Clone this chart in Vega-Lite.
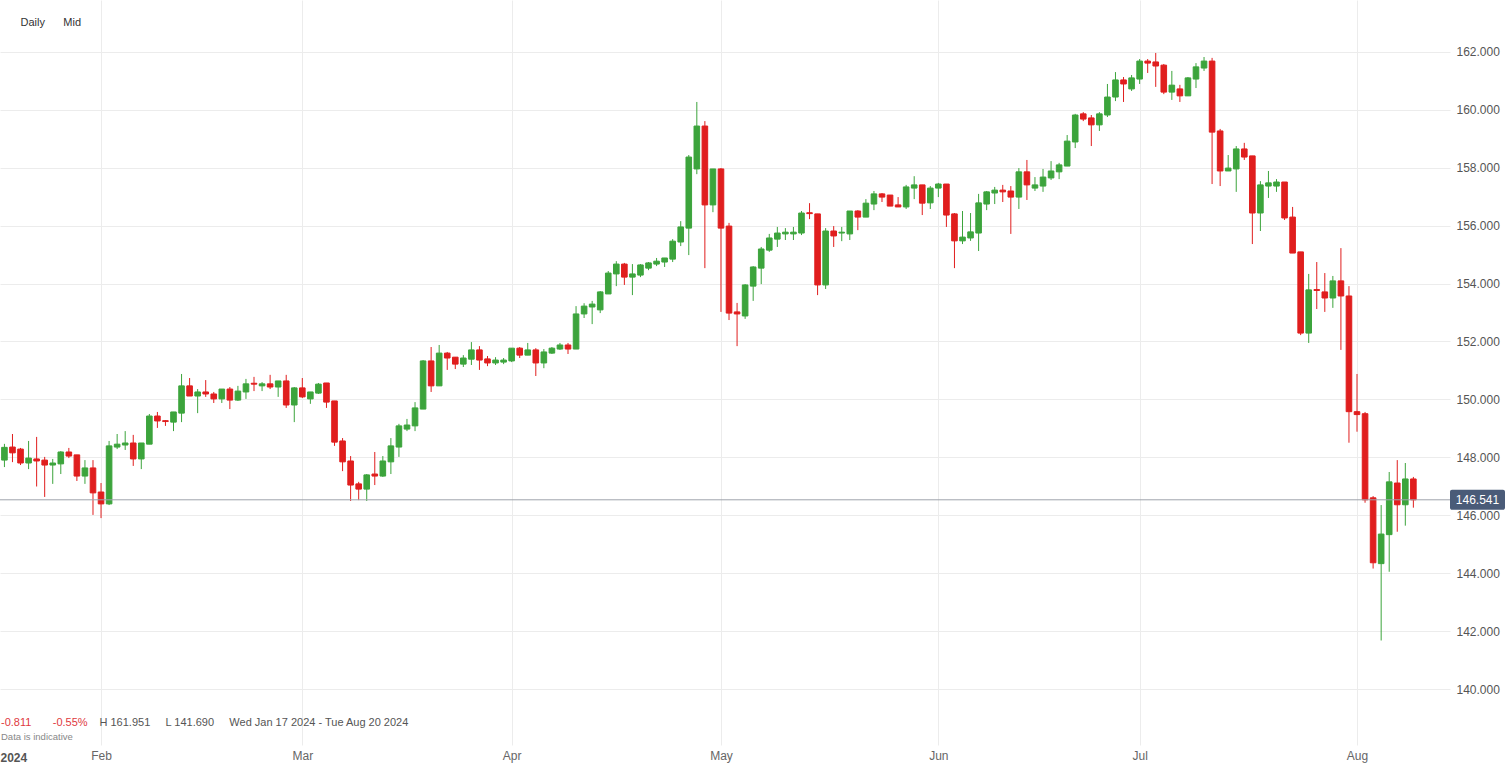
{
"$schema": "https://vega.github.io/schema/vega-lite/v6.json",
"width": 1450, "height": 745,
"autosize": "none",
"padding": {"left": 0, "top": 0, "right": 57, "bottom": 20},
"background": "white",
"config": {"view": {"stroke": null}, "font": "Liberation Sans", "axis": {"labelFont": "Liberation Sans", "titleFont": "Liberation Sans"}},
"title": {"text": "-0.811\u00a0\u00a0\u00a0\u00a0\u00a0\u00a0\u00a0-0.55%", "subtitle": "Data is indicative", "anchor": "start", "orient": "top", "frame": "group", "offset": 0, "dx": 1, "dy": 741, "fontSize": 11, "fontWeight": "normal", "color": "#e0393e", "font": "Liberation Sans", "subtitleFont": "Liberation Sans", "subtitleFontSize": 9.5, "subtitleColor": "#888888", "subtitlePadding": 4},
"datasets": {
"last": [{"price": 146.541}],
"candles": [
{"d":"2024-01-18","o":147.91,"h":148.47,"l":147.67,"c":148.35},
{"d":"2024-01-19","o":148.36,"h":148.81,"l":147.84,"c":148.16},
{"d":"2024-01-21","o":148.29,"h":148.33,"l":147.74,"c":147.81},
{"d":"2024-01-22","o":147.81,"h":148.57,"l":147.60,"c":147.98},
{"d":"2024-01-23","o":147.95,"h":148.71,"l":147.00,"c":147.88},
{"d":"2024-01-24","o":147.91,"h":148.02,"l":146.64,"c":147.74},
{"d":"2024-01-25","o":147.74,"h":147.95,"l":147.09,"c":147.81},
{"d":"2024-01-26","o":147.78,"h":148.22,"l":147.43,"c":148.19},
{"d":"2024-01-28","o":148.19,"h":148.33,"l":147.98,"c":148.05},
{"d":"2024-01-29","o":148.09,"h":148.09,"l":147.19,"c":147.36},
{"d":"2024-01-30","o":147.36,"h":147.91,"l":147.09,"c":147.64},
{"d":"2024-01-31","o":147.64,"h":147.91,"l":146.02,"c":146.78},
{"d":"2024-02-01","o":146.81,"h":147.12,"l":145.91,"c":146.40},
{"d":"2024-02-02","o":146.40,"h":148.57,"l":146.36,"c":148.40},
{"d":"2024-02-04","o":148.36,"h":148.81,"l":148.29,"c":148.46},
{"d":"2024-02-05","o":148.43,"h":148.91,"l":148.26,"c":148.50},
{"d":"2024-02-06","o":148.50,"h":148.78,"l":147.71,"c":147.95},
{"d":"2024-02-07","o":147.95,"h":148.50,"l":147.60,"c":148.50},
{"d":"2024-02-08","o":148.46,"h":149.50,"l":148.46,"c":149.43},
{"d":"2024-02-09","o":149.43,"h":149.57,"l":149.02,"c":149.26},
{"d":"2024-02-11","o":149.27,"h":149.29,"l":149.09,"c":149.24},
{"d":"2024-02-12","o":149.22,"h":149.57,"l":148.91,"c":149.57},
{"d":"2024-02-13","o":149.53,"h":150.88,"l":149.22,"c":150.47},
{"d":"2024-02-14","o":150.47,"h":150.74,"l":150.12,"c":150.12},
{"d":"2024-02-15","o":150.12,"h":150.36,"l":149.53,"c":150.26},
{"d":"2024-02-16","o":150.26,"h":150.67,"l":150.09,"c":150.19},
{"d":"2024-02-18","o":150.19,"h":150.26,"l":149.88,"c":150.02},
{"d":"2024-02-19","o":150.02,"h":150.36,"l":149.88,"c":150.36},
{"d":"2024-02-20","o":150.36,"h":150.43,"l":149.67,"c":149.98},
{"d":"2024-02-21","o":149.98,"h":150.47,"l":149.95,"c":150.29},
{"d":"2024-02-22","o":150.26,"h":150.71,"l":150.02,"c":150.54},
{"d":"2024-02-23","o":150.56,"h":150.78,"l":150.29,"c":150.53},
{"d":"2024-02-25","o":150.47,"h":150.60,"l":150.29,"c":150.54},
{"d":"2024-02-26","o":150.54,"h":150.85,"l":150.36,"c":150.43},
{"d":"2024-02-27","o":150.43,"h":150.64,"l":150.09,"c":150.64},
{"d":"2024-02-28","o":150.64,"h":150.85,"l":149.71,"c":149.81},
{"d":"2024-02-29","o":149.81,"h":150.43,"l":149.22,"c":150.40},
{"d":"2024-03-01","o":150.40,"h":150.74,"l":150.05,"c":150.09},
{"d":"2024-03-03","o":150.02,"h":150.26,"l":149.85,"c":150.26},
{"d":"2024-03-04","o":150.22,"h":150.57,"l":150.19,"c":150.53},
{"d":"2024-03-05","o":150.57,"h":150.57,"l":149.71,"c":149.91},
{"d":"2024-03-06","o":149.95,"h":149.95,"l":148.40,"c":148.53},
{"d":"2024-03-07","o":148.57,"h":148.67,"l":147.53,"c":147.85},
{"d":"2024-03-08","o":147.88,"h":148.05,"l":146.50,"c":147.05},
{"d":"2024-03-10","o":147.09,"h":147.16,"l":146.53,"c":146.91},
{"d":"2024-03-11","o":146.91,"h":147.43,"l":146.50,"c":147.40},
{"d":"2024-03-12","o":147.43,"h":148.19,"l":147.05,"c":147.36},
{"d":"2024-03-13","o":147.36,"h":148.05,"l":147.33,"c":147.88},
{"d":"2024-03-14","o":147.85,"h":148.67,"l":147.43,"c":148.40},
{"d":"2024-03-15","o":148.36,"h":149.16,"l":148.02,"c":149.09},
{"d":"2024-03-17","o":148.98,"h":149.33,"l":148.91,"c":149.12},
{"d":"2024-03-18","o":149.09,"h":149.91,"l":148.91,"c":149.71},
{"d":"2024-03-19","o":149.67,"h":151.36,"l":149.67,"c":151.33},
{"d":"2024-03-20","o":151.33,"h":151.81,"l":150.26,"c":150.47},
{"d":"2024-03-21","o":150.47,"h":151.88,"l":150.47,"c":151.60},
{"d":"2024-03-22","o":151.60,"h":151.64,"l":151.02,"c":151.43},
{"d":"2024-03-24","o":151.46,"h":151.46,"l":151.05,"c":151.22},
{"d":"2024-03-25","o":151.22,"h":151.53,"l":151.12,"c":151.43},
{"d":"2024-03-26","o":151.39,"h":151.98,"l":151.19,"c":151.71},
{"d":"2024-03-27","o":151.71,"h":151.84,"l":151.02,"c":151.36},
{"d":"2024-03-28","o":151.40,"h":151.50,"l":151.15,"c":151.26},
{"d":"2024-03-29","o":151.26,"h":151.46,"l":151.19,"c":151.36},
{"d":"2024-03-31","o":151.29,"h":151.43,"l":151.22,"c":151.36},
{"d":"2024-04-01","o":151.33,"h":151.77,"l":151.29,"c":151.77},
{"d":"2024-04-02","o":151.77,"h":151.81,"l":151.43,"c":151.53},
{"d":"2024-04-03","o":151.53,"h":151.95,"l":151.53,"c":151.71},
{"d":"2024-04-04","o":151.71,"h":151.77,"l":150.81,"c":151.26},
{"d":"2024-04-05","o":151.26,"h":151.74,"l":151.08,"c":151.64},
{"d":"2024-04-07","o":151.60,"h":151.81,"l":151.57,"c":151.77},
{"d":"2024-04-08","o":151.74,"h":151.95,"l":151.71,"c":151.88},
{"d":"2024-04-09","o":151.88,"h":151.95,"l":151.57,"c":151.74},
{"d":"2024-04-10","o":151.74,"h":153.22,"l":151.74,"c":152.95},
{"d":"2024-04-11","o":152.95,"h":153.32,"l":152.81,"c":153.22},
{"d":"2024-04-12","o":153.19,"h":153.40,"l":152.60,"c":153.29},
{"d":"2024-04-14","o":153.09,"h":153.74,"l":152.98,"c":153.71},
{"d":"2024-04-15","o":153.64,"h":154.43,"l":153.64,"c":154.36},
{"d":"2024-04-16","o":154.33,"h":154.77,"l":153.91,"c":154.67},
{"d":"2024-04-17","o":154.67,"h":154.71,"l":153.95,"c":154.22},
{"d":"2024-04-18","o":154.22,"h":154.67,"l":153.60,"c":154.33},
{"d":"2024-04-19","o":154.29,"h":154.67,"l":154.22,"c":154.64},
{"d":"2024-04-21","o":154.53,"h":154.74,"l":154.46,"c":154.71},
{"d":"2024-04-22","o":154.67,"h":154.88,"l":154.60,"c":154.77},
{"d":"2024-04-23","o":154.74,"h":154.88,"l":154.57,"c":154.88},
{"d":"2024-04-24","o":154.84,"h":155.53,"l":154.74,"c":155.46},
{"d":"2024-04-25","o":155.43,"h":156.15,"l":155.29,"c":155.95},
{"d":"2024-04-26","o":155.91,"h":158.43,"l":154.98,"c":158.36},
{"d":"2024-04-28","o":157.95,"h":160.26,"l":157.77,"c":159.43},
{"d":"2024-04-29","o":159.43,"h":159.60,"l":154.53,"c":156.71},
{"d":"2024-04-30","o":156.71,"h":157.95,"l":156.46,"c":157.95},
{"d":"2024-05-01","o":157.95,"h":157.98,"l":153.02,"c":155.91},
{"d":"2024-05-02","o":155.98,"h":156.09,"l":152.74,"c":152.98},
{"d":"2024-05-03","o":153.02,"h":153.33,"l":151.84,"c":152.95},
{"d":"2024-05-05","o":152.88,"h":153.98,"l":152.78,"c":153.95},
{"d":"2024-05-06","o":153.91,"h":154.60,"l":153.40,"c":154.57},
{"d":"2024-05-07","o":154.53,"h":155.26,"l":153.98,"c":155.19},
{"d":"2024-05-08","o":155.15,"h":155.71,"l":155.09,"c":155.57},
{"d":"2024-05-09","o":155.53,"h":155.95,"l":155.26,"c":155.74},
{"d":"2024-05-10","o":155.71,"h":155.91,"l":155.50,"c":155.77},
{"d":"2024-05-12","o":155.71,"h":155.95,"l":155.50,"c":155.77},
{"d":"2024-05-13","o":155.74,"h":156.50,"l":155.67,"c":156.43},
{"d":"2024-05-14","o":156.44,"h":156.77,"l":156.22,"c":156.41},
{"d":"2024-05-15","o":156.40,"h":156.40,"l":153.60,"c":153.95},
{"d":"2024-05-16","o":153.95,"h":155.91,"l":153.81,"c":155.81},
{"d":"2024-05-17","o":155.81,"h":155.98,"l":155.26,"c":155.64},
{"d":"2024-05-19","o":155.74,"h":155.95,"l":155.46,"c":155.77},
{"d":"2024-05-20","o":155.71,"h":156.50,"l":155.50,"c":156.50},
{"d":"2024-05-21","o":156.50,"h":156.53,"l":155.84,"c":156.29},
{"d":"2024-05-22","o":156.29,"h":156.91,"l":156.29,"c":156.77},
{"d":"2024-05-23","o":156.74,"h":157.19,"l":156.53,"c":157.09},
{"d":"2024-05-24","o":157.09,"h":157.12,"l":156.81,"c":156.98},
{"d":"2024-05-26","o":157.05,"h":157.05,"l":156.67,"c":156.67},
{"d":"2024-05-27","o":156.71,"h":156.98,"l":156.64,"c":156.64},
{"d":"2024-05-28","o":156.64,"h":157.40,"l":156.57,"c":157.33},
{"d":"2024-05-29","o":157.29,"h":157.70,"l":156.91,"c":157.40},
{"d":"2024-05-30","o":157.40,"h":157.40,"l":156.36,"c":156.77},
{"d":"2024-05-31","o":156.78,"h":157.36,"l":156.57,"c":157.29},
{"d":"2024-06-02","o":157.29,"h":157.47,"l":156.98,"c":157.43},
{"d":"2024-06-03","o":157.43,"h":157.43,"l":155.95,"c":156.36},
{"d":"2024-06-04","o":156.40,"h":156.43,"l":154.53,"c":155.47},
{"d":"2024-06-05","o":155.47,"h":156.50,"l":155.36,"c":155.60},
{"d":"2024-06-06","o":155.57,"h":156.43,"l":155.47,"c":155.78},
{"d":"2024-06-07","o":155.74,"h":157.09,"l":155.12,"c":156.78},
{"d":"2024-06-09","o":156.74,"h":157.19,"l":156.53,"c":157.16},
{"d":"2024-06-10","o":157.12,"h":157.33,"l":156.74,"c":157.22},
{"d":"2024-06-11","o":157.22,"h":157.40,"l":156.81,"c":157.16},
{"d":"2024-06-12","o":157.19,"h":157.36,"l":155.71,"c":156.98},
{"d":"2024-06-13","o":156.98,"h":157.98,"l":156.57,"c":157.85},
{"d":"2024-06-14","o":157.85,"h":158.26,"l":156.88,"c":157.40},
{"d":"2024-06-16","o":157.29,"h":157.67,"l":157.19,"c":157.40},
{"d":"2024-06-17","o":157.36,"h":157.95,"l":157.16,"c":157.67},
{"d":"2024-06-18","o":157.64,"h":158.22,"l":157.57,"c":157.88},
{"d":"2024-06-19","o":157.85,"h":158.16,"l":157.60,"c":158.09},
{"d":"2024-06-20","o":158.05,"h":159.12,"l":158.05,"c":158.91},
{"d":"2024-06-21","o":158.88,"h":159.85,"l":158.67,"c":159.81},
{"d":"2024-06-23","o":159.85,"h":159.91,"l":159.60,"c":159.67},
{"d":"2024-06-24","o":159.71,"h":159.81,"l":158.74,"c":159.47},
{"d":"2024-06-25","o":159.47,"h":159.91,"l":159.26,"c":159.85},
{"d":"2024-06-26","o":159.81,"h":160.88,"l":159.74,"c":160.43},
{"d":"2024-06-27","o":160.43,"h":161.29,"l":160.29,"c":161.02},
{"d":"2024-06-28","o":161.02,"h":161.12,"l":160.26,"c":160.88},
{"d":"2024-06-30","o":160.71,"h":161.19,"l":160.64,"c":161.09},
{"d":"2024-07-01","o":161.05,"h":161.74,"l":160.88,"c":161.67},
{"d":"2024-07-02","o":161.67,"h":161.74,"l":161.26,"c":161.60},
{"d":"2024-07-03","o":161.64,"h":161.95,"l":160.78,"c":161.50},
{"d":"2024-07-04","o":161.53,"h":161.57,"l":160.53,"c":160.60},
{"d":"2024-07-05","o":160.60,"h":161.33,"l":160.33,"c":160.84},
{"d":"2024-07-07","o":160.71,"h":160.85,"l":160.26,"c":160.47},
{"d":"2024-07-08","o":160.47,"h":161.12,"l":160.47,"c":161.09},
{"d":"2024-07-09","o":161.05,"h":161.60,"l":160.74,"c":161.47},
{"d":"2024-07-10","o":161.43,"h":161.81,"l":161.33,"c":161.67},
{"d":"2024-07-11","o":161.67,"h":161.78,"l":157.43,"c":159.22},
{"d":"2024-07-12","o":159.26,"h":159.33,"l":157.36,"c":157.88},
{"d":"2024-07-14","o":157.88,"h":158.43,"l":157.88,"c":157.98},
{"d":"2024-07-15","o":157.95,"h":158.74,"l":157.16,"c":158.64},
{"d":"2024-07-16","o":158.64,"h":158.85,"l":158.26,"c":158.36},
{"d":"2024-07-17","o":158.40,"h":158.40,"l":155.36,"c":156.43},
{"d":"2024-07-18","o":156.43,"h":157.53,"l":155.81,"c":157.40},
{"d":"2024-07-19","o":157.36,"h":157.88,"l":156.95,"c":157.47},
{"d":"2024-07-21","o":157.36,"h":157.60,"l":157.16,"c":157.50},
{"d":"2024-07-22","o":157.50,"h":157.50,"l":156.19,"c":156.26},
{"d":"2024-07-23","o":156.29,"h":156.64,"l":155.05,"c":155.05},
{"d":"2024-07-24","o":155.09,"h":155.09,"l":152.22,"c":152.29},
{"d":"2024-07-25","o":152.29,"h":154.33,"l":151.95,"c":153.78},
{"d":"2024-07-26","o":153.79,"h":154.74,"l":153.12,"c":153.76},
{"d":"2024-07-28","o":153.71,"h":154.36,"l":153.02,"c":153.50},
{"d":"2024-07-29","o":153.50,"h":154.26,"l":153.16,"c":154.09},
{"d":"2024-07-30","o":154.09,"h":155.22,"l":151.71,"c":153.57},
{"d":"2024-07-31","o":153.57,"h":153.91,"l":148.51,"c":149.58},
{"d":"2024-08-01","o":149.58,"h":150.88,"l":148.89,"c":149.48},
{"d":"2024-08-02","o":149.51,"h":149.57,"l":146.44,"c":146.54},
{"d":"2024-08-04","o":146.61,"h":146.67,"l":144.17,"c":144.37},
{"d":"2024-08-05","o":144.34,"h":146.36,"l":141.69,"c":145.36},
{"d":"2024-08-06","o":145.34,"h":147.50,"l":144.06,"c":147.16},
{"d":"2024-08-07","o":147.12,"h":147.91,"l":145.44,"c":146.37},
{"d":"2024-08-08","o":146.37,"h":147.81,"l":145.65,"c":147.26},
{"d":"2024-08-09","o":147.26,"h":147.33,"l":146.27,"c":146.54}
]
},
"resolve": {"scale": {"y": "independent"}},
"layer": [
{
"layer": [
{
"data": {"name": "candles"},
"encoding": {
"x": {"field": "d", "type": "ordinal",
"scale": {"type": "point", "padding": 0.55, "domain": {"unionWith": ["2024-08-11", "2024-08-12", "2024-08-13", "2024-08-14"]}},
"axis": {"orient": "bottom", "values": ["2024-02-01", "2024-03-01", "2024-04-01", "2024-05-01", "2024-06-02", "2024-07-01", "2024-08-01"],
"labelExpr": "utcFormat(toDate(datum.value), '%b')", "grid": true, "gridColor": "#ececec", "gridWidth": 1, "domain": false, "ticks": false,
"labelPadding": 5, "labelFontSize": 12, "labelColor": "#666666", "labelAngle": 0,
"title": "2024", "titleX": 0, "titleY": 12, "titleAlign": "left", "titleBaseline": "middle", "titleFontWeight": "bold", "titleFontSize": 12, "titleColor": "#555555"}}
},
"layer": [
{
"mark": {"type": "rule", "strokeWidth": 1},
"encoding": {
"y": {"field": "l", "type": "quantitative",
"scale": {"domain": [138.086, 163.776], "nice": false, "zero": false},
"axis": {"orient": "right", "values": [140, 142, 144, 146, 148, 150, 152, 154, 156, 158, 160, 162], "format": ".3f",
"grid": true, "gridColor": "#ececec", "gridWidth": 1, "domain": false, "ticks": false, "labelPadding": 6, "labelFontSize": 12, "labelColor": "#555555",
"title": "H 161.951\u00a0\u00a0\u00a0\u00a0\u00a0L 141.690\u00a0\u00a0\u00a0\u00a0\u00a0Wed Jan 17 2024 - Tue Aug 20 2024",
"titleX": -1351, "titleY": 722, "titleAngle": 0, "titleAlign": "left", "titleBaseline": "middle", "titleFontSize": 11, "titleFontWeight": "normal", "titleColor": "#555555"}},
"y2": {"field": "h"},
"color": {"condition": {"test": "datum.c >= datum.o", "value": "#3ca43c"}, "value": "#e01e1e"}
}
},
{
"mark": {"type": "bar", "width": 5.6, "strokeWidth": 1},
"encoding": {
"y": {"field": "o", "type": "quantitative"},
"y2": {"field": "c"},
"fill": {"condition": {"test": "datum.c >= datum.o", "value": "#3ca43c"}, "value": "#e01e1e"},
"stroke": {"condition": {"test": "datum.c >= datum.o", "value": "#3ca43c"}, "value": "#e01e1e"}
}
}
]
},
{
"data": {"name": "last"},
"mark": {"type": "rect", "fill": "#4a5b78", "cornerRadius": 2, "xOffset": 0, "x2Offset": 55, "yOffset": -10, "y2Offset": 10},
"encoding": {
"x": {"value": "width"}, "x2": {"value": "width"},
"y": {"field": "price", "type": "quantitative"}, "y2": {"field": "price"}
}
},
{
"data": {"name": "last"},
"mark": {"type": "text", "color": "white", "fontSize": 12, "align": "center", "baseline": "middle", "dx": 27.5, "font": "Liberation Sans"},
"encoding": {
"x": {"value": "width"},
"y": {"field": "price", "type": "quantitative"},
"text": {"field": "price", "type": "quantitative", "format": ".3f"}
}
}
]
},
{
"data": {"name": "last"},
"mark": {"type": "rule", "color": "#9ea3ab", "strokeWidth": 1},
"encoding": {
"y": {"field": "price", "type": "quantitative",
"scale": {"domain": [138.086, 163.776], "nice": false, "zero": false},
"axis": {"orient": "left", "labels": false, "ticks": false, "domain": false, "grid": false,
"title": "Daily\u00a0\u00a0\u00a0\u00a0\u00a0\u00a0Mid", "titleX": 20, "titleY": 22, "titleAngle": 0, "titleAlign": "left", "titleBaseline": "middle", "titleFontSize": 11, "titleFontWeight": "normal", "titleColor": "#333333"}}
}
}
]
}
